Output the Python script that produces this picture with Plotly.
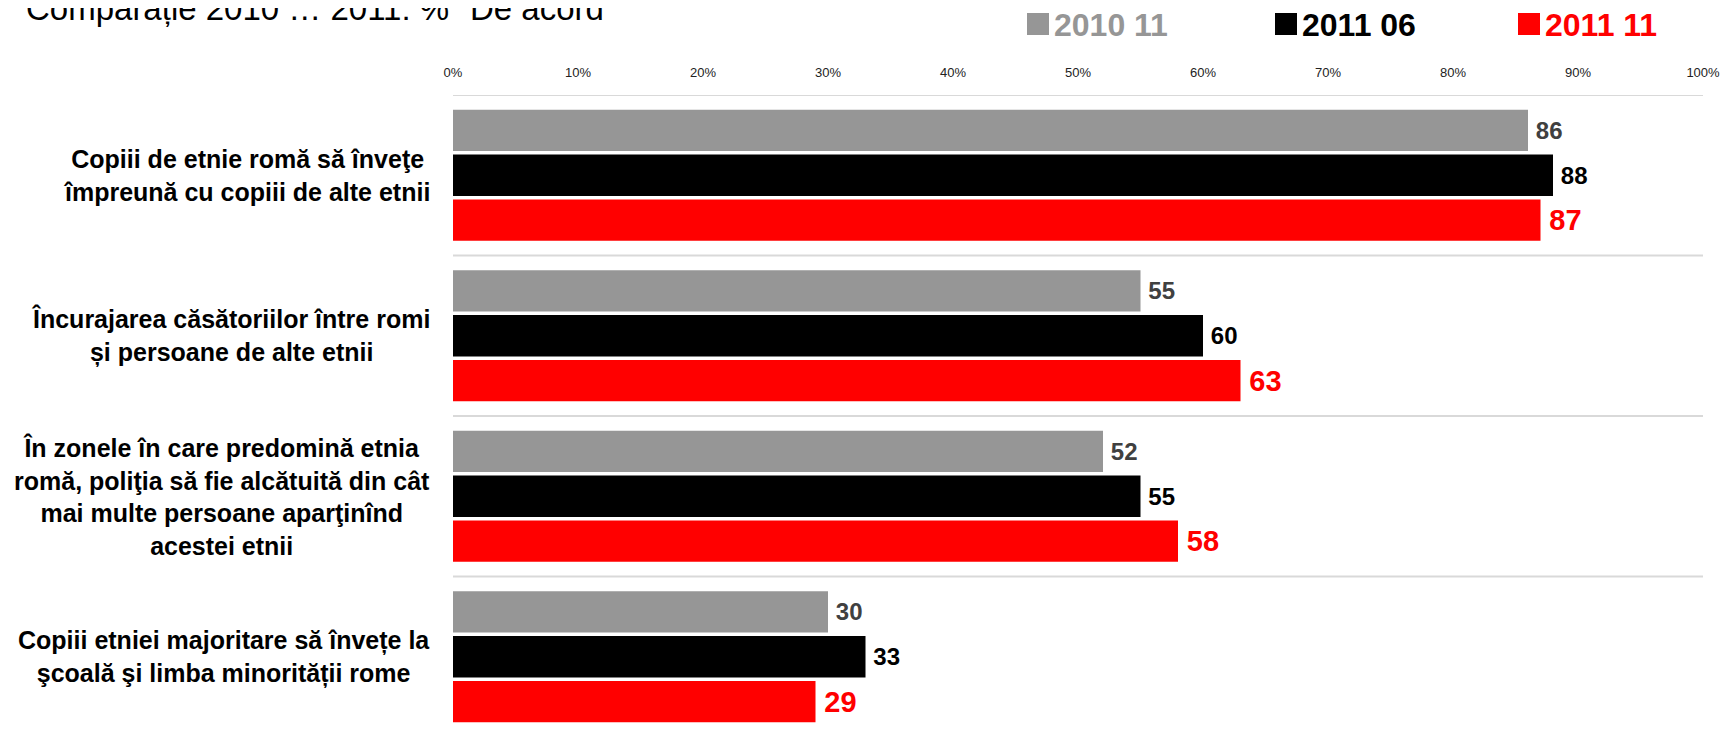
import plotly.graph_objects as go

# ---- data ----
categories = [
    "Copiii de etnie romă să înveţe<br>împreună cu copiii de alte etnii",
    "Încurajarea căsătoriilor între romi<br>și persoane de alte etnii",
    "În zonele în care predomină etnia<br>romă, poliţia să fie alcătuită din cât<br>mai multe persoane aparţinînd<br>acestei etnii",
    "Copiii etniei majoritare să învețe la<br>şcoală şi limba minorității rome",
]
series_names = ["2010 11", "2011 06", "2011 11"]
values_2010_11 = [86, 55, 52, 30]
values_2011_06 = [88, 60, 55, 33]
values_2011_11 = [87, 63, 58, 29]
tick_values = [0, 10, 20, 30, 40, 50, 60, 70, 80, 90, 100]
tick_labels = ["0%", "10%", "20%", "30%", "40%", "50%", "60%", "70%", "80%", "90%", "100%"]
title_text = "Comparație 2010 … 2011: % \"De acord\""

# ---- styling ----
OFF = 8  # page body margin
VW, VH = 1731, 734
W, H = VW - OFF, VH - OFF
# plot area in viewport pixels: x 453..1703, y 95..(bottom)
ML = 453 - OFF
MR = VW - 1703
MT = 95 - OFF
MB = 0
PW, PH = W - ML - MR, H - MT - MB
FONT = "Liberation Sans, Arial, sans-serif"
bar_colors = ["#969696", "#000000", "#FF0000"]
text_colors = ["#404040", "#000000", "#FF0000"]
text_sizes = [24, 24, 29]
legend_colors = ["#969696", "#000000", "#FF0000"]
CAT_PITCH = 160.5


def pxx(p):  # viewport x pixel -> paper
    return (p - OFF - ML) / PW


def pxy(p):  # viewport y pixel -> paper
    return (H - MB - (p - OFF)) / PH


fig = go.Figure()
for name, vals, bc, tc, ts in zip(series_names,
                                  [values_2010_11, values_2011_06, values_2011_11],
                                  bar_colors, text_colors, text_sizes):
    fig.add_trace(go.Bar(
        y=categories, x=vals, name=name, orientation="h",
        marker=dict(color=bc, line=dict(width=0)),
        text=[str(v) for v in vals], texttemplate="\u2009%{text}", textposition="outside",
        textfont=dict(family=FONT, size=ts, color=tc, weight="bold"),
        cliponaxis=False, showlegend=False,
    ))

annotations = []
# category labels (centered block, right edge left of the axis)
for cat in categories:
    annotations.append(dict(
        xref="paper", yref="y", x=0, y=cat, xanchor="right", yanchor="middle",
        xshift=-21, text=cat, showarrow=False, align="center",
        font=dict(family=FONT, size=25, color="#000000", weight="bold"),
    ))
# title
annotations.append(dict(
    xref="paper", yref="paper", x=pxx(24), y=pxy(8), xanchor="left", yanchor="middle",
    text=title_text, showarrow=False,
    font=dict(family=FONT, size=33, color="#000000"),
))

shapes = []
# legend
leg_x = [1027, 1275, 1518]
for name, lx, col in zip(series_names, leg_x, legend_colors):
    shapes.append(dict(type="rect", xref="paper", yref="paper",
                       x0=pxx(lx), x1=pxx(lx + 22), y0=pxy(35), y1=pxy(13),
                       fillcolor=col, line=dict(width=0)))
    annotations.append(dict(
        xref="paper", yref="paper", x=pxx(lx + 25), y=pxy(25), xanchor="left", yanchor="middle",
        text=name, showarrow=False,
        font=dict(family=FONT, size=32, color=col, weight="bold"),
    ))

# separators between categories
for k in range(len(categories)):
    shapes.append(dict(type="line", xref="x", yref="y", x0=0, x1=100,
                       y0=k - 0.5, y1=k - 0.5, layer="below",
                       line=dict(color="#D9D9D9", width=2)))

fig.update_layout(
    width=W, height=H,
    margin=dict(l=ML, r=MR, t=MT, b=MB, pad=0),
    paper_bgcolor="white", plot_bgcolor="white",
    barmode="group", bargap=0.16, bargroupgap=0.08,
    annotations=annotations, shapes=shapes,
    showlegend=False,
    xaxis=dict(range=[0, 100], side="top", tickvals=tick_values, ticktext=tick_labels,
               showgrid=False, zeroline=False, showline=False,
               ticks="outside", ticklen=12, tickcolor="rgba(0,0,0,0)",
               tickfont=dict(family=FONT, size=13, color="#222222"), fixedrange=True),
    yaxis=dict(range=[-0.5 + PH / CAT_PITCH, -0.5], showticklabels=False, showgrid=False,
               zeroline=False, showline=False, ticks="", fixedrange=True),
)

fig.write_html("out.html")
